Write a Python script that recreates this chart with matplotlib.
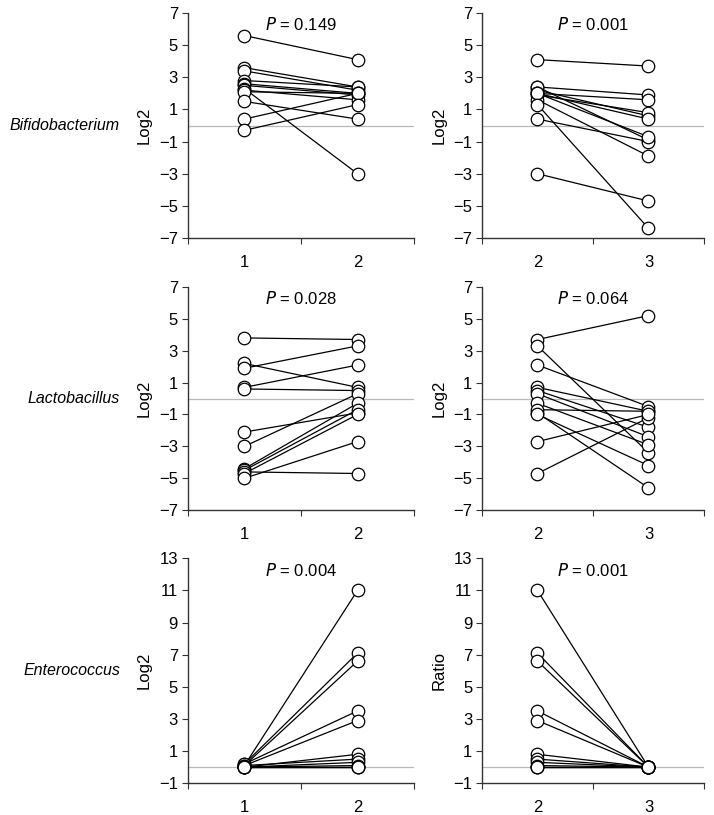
import numpy as np
import matplotlib.pyplot as plt

plt.rcParams['font.family'] = ['Liberation Sans Narrow', 'Liberation Sans', 'DejaVu Sans']

# paired values per subject (time points 1, 2, 3)
bifido_t1 = [5.6, 3.6, 3.4, 2.8, 2.6, 2.5, 2.3, 2.2, 2.1, 1.5, 0.4, -0.3]
bifido_t2 = [4.1, 2.4, 2.2, 2.4, 2.0, 1.9, -3.0, 1.6, 2.0, 0.4, 2.0, 1.3]
bifido_t3 = [3.7, 1.9, 0.6, -0.9, 1.6, 0.8, -4.7, -1.9, 0.4, -1.0, -0.7, -6.4]

lacto_t1 = [3.8, 2.2, 1.9, 0.7, 0.6, -2.1, -3.0, -4.4, -4.5, -4.6, -4.7, -5.0]
lacto_t2 = [3.7, 0.7, 3.3, 2.1, 0.5, -0.9, 0.3, -0.3, -0.7, -4.7, -1.0, -2.7]
lacto_t3 = [5.2, -0.8, -3.4, -0.5, -1.8, -5.6, -2.4, -2.9, -0.8, -1.2, -4.2, -1.0]

entero_t1 = [0.1, 0.2, 0.1, 0.2, 0.1, 0.0, 0.1, 0.0, 0.0, 0.0, 0.0, 0.0]
entero_t2 = [11.0, 7.1, 6.6, 3.5, 2.9, 0.8, 0.5, 0.3, 0.1, 0.0, 0.0, 0.0]
entero_t3 = [0.0] * 12

species = ["Bifidobacterium", "Lactobacillus", "Enterococcus"]
p_left = ["0.149", "0.028", "0.004"]
p_right = ["0.001", "0.064", "0.001"]
ylabels_right = ["Log2", "Log2", "Ratio"]
ylims = [(-7, 7), (-7, 7), (-1, 13)]

data = [(bifido_t1, bifido_t2, bifido_t3),
        (lacto_t1, lacto_t2, lacto_t3),
        (entero_t1, entero_t2, entero_t3)]

fig = plt.figure(figsize=(7.14, 8.15), dpi=100)

rows_y = [(0.708, 0.984), (0.374, 0.648), (0.039, 0.315)]
cols_x = [(0.263, 0.580), (0.675, 0.986)]

def draw_panel(ax, a, b, xa, xb, ylim, ptxt, ylab):
    ax.axhline(0, color="#b8b8b8", lw=0.9, zorder=1)
    for va, vb in zip(a, b):
        ax.plot([xa, xb], [va, vb], color="black", lw=0.9, zorder=2,
                marker="o", ms=9, mfc="white", mec="black", mew=0.9,
                clip_on=False)
    ax.set_xlim(xa - 0.5, xb + 0.5)
    ax.set_ylim(*ylim)
    ax.set_yticks(np.arange(ylim[0], ylim[1] + 1, 2))
    ax.set_xticks([xa - 0.5, xa + 0.5, xb + 0.5])
    ax.set_xticklabels([])
    ax.set_xticks([xa, xb], minor=True)
    ax.set_xticklabels([str(xa), str(xb)], minor=True)
    ax.tick_params(axis="x", which="minor", length=0, pad=12, labelsize=12)
    ax.tick_params(axis="x", which="major", length=4, direction="out", color="#333333")
    ax.tick_params(axis="y", length=4, direction="out", labelsize=12, color="#333333", pad=3)
    for s in ["top", "right"]:
        ax.spines[s].set_visible(False)
    for s in ["left", "bottom"]:
        ax.spines[s].set_color("#333333")
        ax.spines[s].set_linewidth(1.0)
    ax.set_ylabel(ylab, fontsize=12, labelpad=5)
    ax.text(0.5, 0.985, r"$\it{P}$ = " + ptxt, transform=ax.transAxes,
            ha="center", va="top", fontsize=12)

for i in range(3):
    y0, y1 = rows_y[i]
    t1, t2, t3 = data[i]
    axl = fig.add_axes([cols_x[0][0], y0, cols_x[0][1] - cols_x[0][0], y1 - y0])
    draw_panel(axl, t1, t2, 1, 2, ylims[i], p_left[i], "Log2")
    axr = fig.add_axes([cols_x[1][0], y0, cols_x[1][1] - cols_x[1][0], y1 - y0])
    draw_panel(axr, t2, t3, 2, 3, ylims[i], p_right[i], ylabels_right[i])
    fig.text(0.168, (y0 + y1) / 2, species[i], ha="right", va="center",
             fontsize=11.5, style="italic")

fig.savefig("out.png", dpi=100)
